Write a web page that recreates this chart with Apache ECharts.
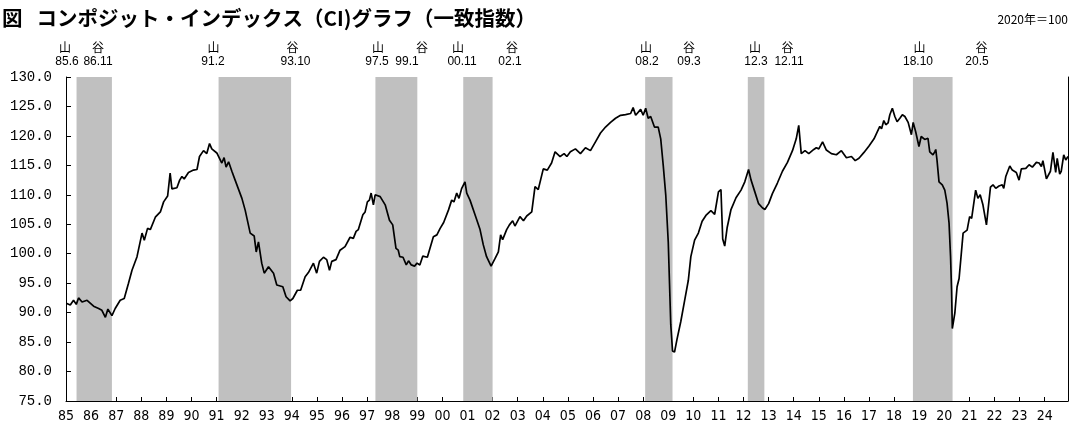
<!DOCTYPE html>
<html><head><meta charset="utf-8">
<script src="https://cdn.jsdelivr.net/npm/echarts@6/dist/echarts.min.js"></script>
<style>html,body{margin:0;padding:0;background:#fff}#c{width:1073px;height:424px}</style>
</head><body><div id="c"></div>
<script>
// time (decimal year) and CI values
const ciTime = [
1985.01,1985.17,1985.30,1985.41,1985.50,1985.64,1985.84,1986.10,1986.30,1986.43,1986.57,1986.67,1986.83,1986.96,
1987.16,1987.32,1987.49,1987.63,1987.83,1988.03,1988.12,1988.25,1988.36,1988.56,1988.76,1988.89,1989.05,1989.15,
1989.22,1989.42,1989.53,1989.62,1989.71,1989.88,1990.08,1990.22,1990.32,1990.48,1990.61,1990.72,1990.81,1991.01,
1991.21,1991.30,1991.38,1991.48,1991.61,1991.74,1992.01,1992.14,1992.34,1992.50,1992.58,1992.67,1992.80,1992.90,
1993.07,1993.27,1993.40,1993.64,1993.77,1993.93,1994.04,1994.22,1994.35,1994.53,1994.66,1994.86,1994.99,1995.10,
1995.26,1995.39,1995.50,1995.59,1995.76,1995.92,1996.12,1996.32,1996.45,1996.56,1996.65,1996.83,1996.92,1997.01,
1997.09,1997.16,1997.25,1997.32,1997.52,1997.72,1997.89,1998.02,1998.15,1998.24,1998.30,1998.43,1998.56,1998.65,
1998.76,1998.89,1998.99,1999.10,1999.22,1999.40,1999.64,1999.78,1999.91,2000.05,2000.24,2000.37,2000.46,2000.57,
2000.66,2000.77,2000.90,2000.97,2001.10,2001.30,2001.50,2001.63,2001.76,2001.94,2002.10,2002.23,2002.32,2002.40,
2002.56,2002.67,2002.80,2002.89,2003.09,2003.23,2003.36,2003.56,2003.69,2003.82,2004.02,2004.18,2004.35,2004.49,
2004.69,2004.85,2004.96,2005.10,2005.30,2005.50,2005.70,2005.90,2006.10,2006.30,2006.50,2006.70,2006.90,2007.10,
2007.30,2007.50,2007.60,2007.70,2007.90,2008.00,2008.10,2008.20,2008.30,2008.45,2008.60,2008.70,2008.80,2008.90,
2009.00,2009.05,2009.10,2009.17,2009.25,2009.35,2009.50,2009.65,2009.80,2009.90,2010.05,2010.20,2010.35,2010.50,
2010.70,2010.85,2011.00,2011.10,2011.17,2011.25,2011.35,2011.50,2011.70,2011.90,2012.05,2012.20,2012.30,2012.45,
2012.60,2012.75,2012.85,2013.00,2013.15,2013.35,2013.55,2013.75,2013.95,2014.10,2014.20,2014.30,2014.45,2014.60,
2014.80,2014.90,2015.00,2015.15,2015.30,2015.50,2015.70,2015.90,2016.10,2016.30,2016.45,2016.60,2016.80,2017.00,
2017.20,2017.43,2017.50,2017.59,2017.67,2017.76,2017.83,2017.93,2018.03,2018.12,2018.23,2018.33,2018.43,2018.56,
2018.62,2018.69,2018.76,2018.86,2018.99,2019.08,2019.22,2019.35,2019.42,2019.55,2019.62,2019.66,2019.71,2019.79,
2019.92,2020.02,2020.11,2020.19,2020.25,2020.29,2020.32,2020.42,2020.51,2020.59,2020.75,2020.91,2021.01,2021.09,
2021.25,2021.34,2021.43,2021.54,2021.68,2021.84,2021.94,2022.05,2022.18,2022.31,2022.37,2022.45,2022.61,2022.71,
2022.87,2022.98,2023.07,2023.25,2023.38,2023.51,2023.67,2023.78,2023.87,2023.93,2024.07,2024.13,2024.23,2024.33,
2024.44,2024.50,2024.60,2024.66,2024.76,2024.84,2024.93
];
const ciValue = [
91.6,91.3,92.1,91.4,92.5,91.8,92.1,91.1,90.7,90.4,89.2,90.6,89.5,90.7,
92.1,92.4,95.0,97.2,99.5,103.5,102.3,104.3,104.1,106.2,107.1,108.8,109.8,113.7,
111.0,111.2,112.5,113.1,112.7,113.8,114.2,114.3,116.5,117.5,117.0,118.7,117.8,117.1,
115.4,116.3,114.7,115.6,114.0,112.5,109.4,107.4,103.5,103.0,100.3,102.0,98.4,96.7,
97.8,96.7,94.7,94.4,92.7,92.0,92.4,93.8,93.8,96.1,96.8,98.4,96.7,98.7,
99.4,99.0,97.2,98.7,99.0,100.6,101.2,102.8,102.6,103.8,104.1,106.6,107.1,108.8,
109.1,110.3,108.3,110.0,109.7,108.3,105.7,104.9,100.9,100.6,99.5,99.4,98.1,98.8,
98.1,97.9,98.4,98.1,99.6,99.4,102.9,103.2,104.3,105.3,107.4,109.1,108.8,110.3,
109.4,111.1,112.2,110.3,109.1,106.6,104.1,101.5,99.5,97.9,99.2,100.3,103.2,102.4,
104.1,104.9,105.6,104.7,106.3,105.6,106.4,107.1,111.4,110.9,114.4,114.2,115.4,117.3,
116.5,117.0,116.5,117.3,117.8,117.0,118.0,117.5,119.0,120.5,121.5,122.3,123.0,123.5,
123.6,123.8,124.8,123.5,124.5,123.5,124.7,123.0,123.3,121.5,121.5,119.5,115.0,110.0,
102.0,95.0,88.0,83.5,83.3,85.5,88.5,92.0,95.5,99.5,102.3,103.5,105.5,106.5,
107.3,106.7,110.5,110.9,102.5,101.3,104.5,107.5,109.5,110.8,112.2,114.3,112.5,110.5,
108.5,107.8,107.5,108.5,110.2,112.0,114.0,115.5,117.5,119.5,121.8,117.0,117.5,117.0,
117.7,118.0,117.8,119.0,117.6,117.0,116.8,117.5,116.3,116.5,115.8,116.2,117.2,118.3,
119.5,121.6,121.2,122.6,121.9,122.2,123.6,124.7,123.3,122.4,123.0,123.6,123.3,122.3,
122.6,120.2,122.3,120.7,118.2,119.9,119.4,119.6,117.3,116.8,117.3,117.7,115.9,112.2,
111.7,110.8,108.6,105.2,99.5,93.8,87.3,89.9,94.4,95.8,103.5,104.0,106.3,106.0,
110.8,109.4,110.0,108.3,104.9,111.3,111.7,111.1,111.5,111.7,111.1,113.1,114.9,114.2,
113.8,112.5,114.4,114.5,115.1,114.7,115.5,115.4,114.8,115.8,112.7,112.4,114.0,117.2,
113.8,116.2,113.5,114.0,116.8,115.9,116.5
];
const yMin = 75, yMax = 130, yStep = 5;
const xMin = 1985, xMax = 2024.93;
// business-cycle reference dates (peak = 山, trough = 谷)
const peakLabels = ['85.6','91.2','97.5','00.11','08.2','12.3','18.10'];
const troughLabels = ['86.11','93.10','99.1','02.1','09.3','12.11','20.5'];
const bandStart = [1985.42,1991.08,1997.33,2000.83,2008.08,2012.17,2018.75];
const bandEnd   = [1986.83,1993.97,1999.00,2002.00,2009.17,2012.83,2020.33];

// layout of the annotation texts (pixel centres)
const peakTextX  = [67,213,377,462,647,756,918];
const peakCharX  = [65,213.5,378,458,646,755,919.5];
const troughTextX = [98,295.5,407,510,689,789,977];
const troughCharX = [98,292.5,422,512,689,787.5,981.5];

const chart = echarts.init(document.getElementById('c'), null, {renderer:'canvas'});
const lineData = ciTime.map((t,i)=>[t, ciValue[i]]);
const areas = bandStart.map((s,i)=>[{xAxis:s},{xAxis:bandEnd[i]}]);

const graphics = [];
graphics.push({type:'text', left:2, top:8, style:{text:'図   コンポジット・インデックス（CI)グラフ（一致指数）', fill:'#000', font:'bold 20.5px "Noto Sans CJK JP"'}});
graphics.push({type:'text', right:5, top:13, style:{text:'2020年＝100', fill:'#000', font:'12px "Noto Sans CJK JP"'}});
const smallFont = '12px "Liberation Sans",sans-serif';
const cjkFont = '12px "Noto Sans CJK JP"';
peakLabels.forEach((t,i)=>{
  graphics.push({type:'text', x:peakCharX[i], y:47, style:{text:'山', fill:'#000', font:cjkFont, textAlign:'center', textVerticalAlign:'middle', verticalAlign:'middle'}});
  graphics.push({type:'text', x:peakTextX[i], y:62, style:{text:t, fill:'#000', font:smallFont, textAlign:'center', textVerticalAlign:'middle', verticalAlign:'middle'}});
});
troughLabels.forEach((t,i)=>{
  graphics.push({type:'text', x:troughCharX[i], y:47, style:{text:'谷', fill:'#000', font:cjkFont, textAlign:'center', textVerticalAlign:'middle', verticalAlign:'middle'}});
  graphics.push({type:'text', x:troughTextX[i], y:62, style:{text:t, fill:'#000', font:smallFont, textAlign:'center', textVerticalAlign:'middle', verticalAlign:'middle'}});
});

chart.setOption({
  animation:false,
  backgroundColor:'#fff',
  grid:{left:66, right:5, top:77, bottom:23, outerBoundsMode:'none', containLabel:false},
  xAxis:{
    type:'value', min:xMin, max:xMax, interval:1,
    axisLine:{show:true, onZero:false, lineStyle:{color:'#000', width:1}},
    axisTick:{show:true, inside:true, length:4, lineStyle:{color:'#000'}},
    splitLine:{show:false},
    axisLabel:{margin:8, color:'#000', fontSize:14, fontFamily:'"Liberation Sans Narrow","DejaVu Sans Condensed",sans-serif',
      showMaxLabel:false,
      formatter:v=> Math.abs(v-Math.round(v))<1e-6 ? String(Math.round(v)%100).padStart(2,'0') : ''}
  },
  yAxis:[{
    type:'value', min:yMin, max:yMax, interval:yStep,
    axisLine:{show:true, lineStyle:{color:'#000', width:1}},
    axisTick:{show:true, inside:true, length:5, lineStyle:{color:'#000'}},
    splitLine:{show:false},
    axisLabel:{margin:14, color:'#000', fontSize:14, fontFamily:'"Liberation Mono",monospace', formatter:v=>v.toFixed(1)}
  },{
    type:'value', min:yMin, max:yMax, interval:yStep, position:'right',
    axisLine:{show:true, lineStyle:{color:'#000', width:1}},
    axisTick:{show:false}, axisLabel:{show:false}, splitLine:{show:false}
  }],
  graphic:graphics,
  series:[{
    type:'line', data:lineData, showSymbol:false, symbol:'none',
    lineStyle:{color:'#000', width:1.7}, z:3,
    markArea:{silent:true, itemStyle:{color:'#c0c0c0', borderWidth:0}, data:areas}
  }]
});
</script></body></html>
